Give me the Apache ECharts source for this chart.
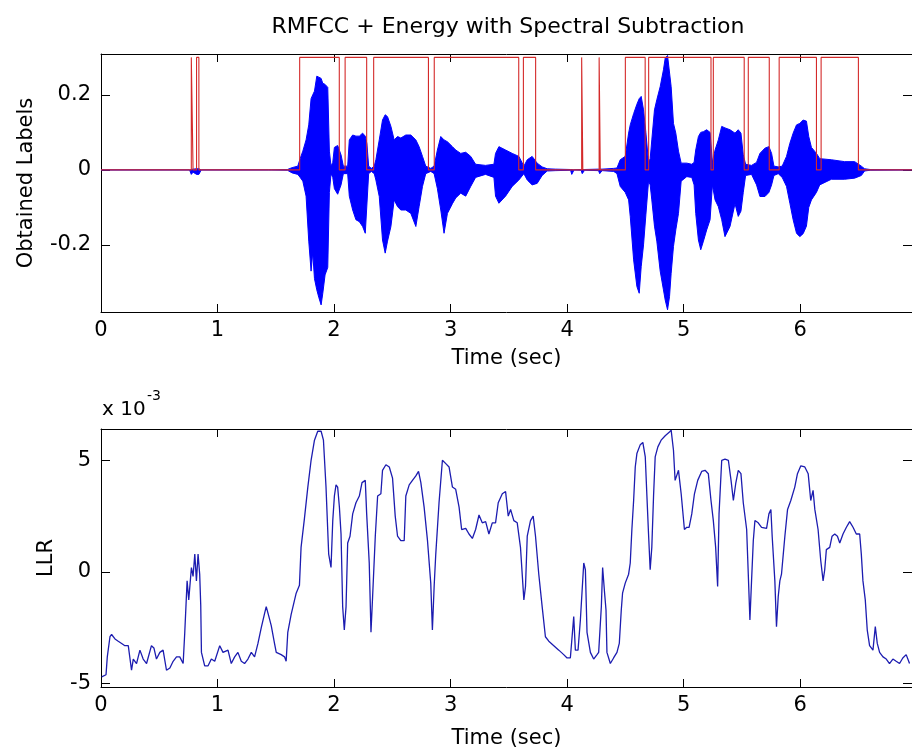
<!DOCTYPE html>
<html>
<head>
<meta charset="utf-8">
<style>
  html, body { margin: 0; padding: 0; background: #ffffff; }
  #chart { width: 912px; height: 755px; }
</style>
<script src="https://cdn.jsdelivr.net/npm/echarts@6/dist/echarts.min.js"></script>
</head>
<body>
<div id="chart"></div>
<script>
// ---- Axis ranges and tick values ----
const timeMax = 6.96;
const timeTicks = [0, 1, 2, 3, 4, 5, 6];
const labelAxisMin = -0.379;
const labelAxisMax = 0.309;
const labelTicks = [-0.2, 0, 0.2];
const llrAxisMin = -5.15;
const llrAxisMax = 6.4;
const llrTicks = [-5, 0, 5];

// ---- Speech waveform envelope (seconds, upper peak, lower peak) ----
const waveT = [
  0.00, 0.76, 0.775, 0.79, 0.82, 0.84, 0.86, 1.44, 1.45, 1.46, 1.60, 1.64,
  1.689, 1.709, 1.732, 1.760, 1.783, 1.803, 1.817, 1.832, 1.852, 1.869, 1.889, 1.903, 1.923, 1.946, 1.960, 1.974,
  1.989, 2.003, 2.031, 2.060, 2.080,
  2.117, 2.131, 2.160, 2.188, 2.217, 2.245, 2.268, 2.282, 2.297, 2.320,
  2.345, 2.359, 2.388, 2.416, 2.439, 2.459, 2.488, 2.516, 2.545, 2.573, 2.616, 2.659, 2.702, 2.730, 2.759, 2.787, 2.830,
  2.859, 2.887, 2.916, 2.944, 2.973, 3.016, 3.044, 3.087, 3.130, 3.173, 3.215, 3.300,
  3.372, 3.386, 3.415, 3.472, 3.529, 3.586, 3.629,
  3.658, 3.700, 3.743, 3.786, 3.829, 3.900, 4.030, 4.040, 4.060, 4.120, 4.130, 4.150, 4.270, 4.280, 4.300, 4.400,
  4.428, 4.456, 4.499, 4.528, 4.542, 4.571, 4.599, 4.619, 4.636, 4.656, 4.676, 4.699,
  4.713, 4.727, 4.750, 4.770, 4.799, 4.827, 4.842, 4.862, 4.879, 4.893, 4.913, 4.933, 4.956, 4.979,
  5.027, 5.070,
  5.090, 5.104, 5.127, 5.147, 5.170, 5.198, 5.227, 5.247,
  5.270, 5.298, 5.327, 5.355, 5.398, 5.441, 5.469, 5.492, 5.512, 5.532,
  5.583,
  5.626, 5.655, 5.698, 5.732, 5.755, 5.775,
  5.812,
  5.846, 5.883, 5.912, 5.940, 5.969, 5.997, 6.026, 6.054, 6.074, 6.097, 6.140, 6.168,
  6.268, 6.382, 6.468, 6.525, 6.553, 6.600, 6.960
];
const waveHi = [
  0, 0, 0.004, 0.002, 0.003, 0.003, 0, 0, 0.004, 0, 0.001, 0.006,
  0.010, 0.030, 0.050, 0.080, 0.120, 0.190, 0.200, 0.210, 0.250, 0.253, 0.244, 0.231, 0.228, 0.220, 0.050, 0.010,
  0.020, 0.060, 0.065, 0.040, 0.010,
  0.010, 0.080, 0.093, 0.090, 0.090, 0.098, 0.090, 0.070, 0.010, 0.004,
  0.010, 0.027, 0.080, 0.133, 0.147, 0.142, 0.116, 0.080, 0.089, 0.085, 0.093, 0.093, 0.080, 0.062, 0.036, 0.010, 0.004,
  0.010, 0.053, 0.089, 0.080, 0.075, 0.062, 0.053, 0.044, 0.047, 0.036, 0.015, 0.012,
  0.015, 0.044, 0.062, 0.053, 0.044, 0.036, 0.010,
  0.027, 0.036, 0.018, 0.008, 0.003, 0.002, 0.001, 0.003, 0.000, 0.001, 0.002, 0.001, 0.002, 0.004, 0.002, 0.004,
  0.005, 0.027, 0.036, 0.098, 0.120, 0.150, 0.175, 0.190, 0.196, 0.160, 0.100, 0.020,
  0.030, 0.080, 0.160, 0.187, 0.222, 0.267, 0.298, 0.305, 0.300, 0.222, 0.124, 0.098, 0.050, 0.018,
  0.018, 0.015,
  0.020, 0.053, 0.089, 0.100, 0.102, 0.107, 0.100, 0.020,
  0.053, 0.080, 0.116, 0.112, 0.107, 0.098, 0.107, 0.098, 0.040, 0.015,
  0.012,
  0.020, 0.044, 0.058, 0.062, 0.044, 0.010,
  0.008,
  0.010, 0.036, 0.071, 0.098, 0.120, 0.124, 0.133, 0.130, 0.089, 0.060, 0.044, 0.030,
  0.027, 0.022, 0.022, 0.010, 0.003, 0.001, 0
];
const waveLo = [
  0, 0, -0.012, -0.006, -0.012, -0.012, 0, 0, -0.002, 0, -0.001, -0.008,
  -0.012, -0.020, -0.030, -0.070, -0.190, -0.270, -0.220, -0.290, -0.320, -0.340, -0.360, -0.330, -0.280, -0.260, -0.060, -0.010,
  -0.020, -0.050, -0.065, -0.040, -0.010,
  -0.010, -0.070, -0.107, -0.133, -0.138, -0.151, -0.169, -0.165, -0.010, -0.004,
  -0.010, -0.027, -0.071, -0.187, -0.222, -0.190, -0.151, -0.080, -0.098, -0.107, -0.107, -0.116, -0.151, -0.098, -0.044, -0.010, -0.004,
  -0.010, -0.050, -0.107, -0.169, -0.116, -0.090, -0.075, -0.062, -0.070, -0.044, -0.020, -0.012,
  -0.020, -0.070, -0.089, -0.070, -0.044, -0.027, -0.010,
  -0.027, -0.040, -0.036, -0.015, -0.003, -0.002, -0.001, -0.012, 0.000, -0.001, -0.010, -0.001, -0.002, -0.010, -0.002, -0.004,
  -0.010, -0.044, -0.060, -0.080, -0.124, -0.240, -0.311, -0.329, -0.258, -0.200, -0.120, -0.030,
  -0.040, -0.080, -0.150, -0.190, -0.270, -0.320, -0.347, -0.373, -0.338, -0.276, -0.204, -0.160, -0.116, -0.030,
  -0.018, -0.020,
  -0.040, -0.116, -0.187, -0.213, -0.190, -0.160, -0.133, -0.040,
  -0.080, -0.098, -0.133, -0.178, -0.151, -0.090, -0.124, -0.110, -0.060, -0.015,
  -0.012,
  -0.040, -0.071, -0.071, -0.060, -0.040, -0.015,
  -0.010,
  -0.020, -0.044, -0.089, -0.133, -0.169, -0.178, -0.170, -0.150, -0.100, -0.080, -0.060, -0.040,
  -0.025, -0.025, -0.022, -0.015, -0.003, -0.001, 0
];

// ---- Obtained speech labels: segment start / end times (seconds) ----
const labelHigh = 0.3;
const labelOn  = [0.775, 0.820, 1.705, 2.095, 2.340, 2.860, 3.625, 4.125, 4.275, 4.500, 4.700, 5.255, 5.555, 5.820, 6.180];
const labelOff = [0.790, 0.840, 2.045, 2.280, 2.810, 3.585, 3.730, 4.135, 4.285, 4.670, 5.235, 5.520, 5.735, 6.140, 6.500];

// ---- Log-likelihood ratio (x 10^-3) ----
const llrT = [
  0.006, 0.043, 0.054, 0.077, 0.091, 0.120, 0.148, 0.177, 0.205, 0.234, 0.262, 0.277, 0.305, 0.334, 0.362, 0.391,
  0.433, 0.454, 0.476, 0.505, 0.533, 0.562, 0.591, 0.619, 0.648, 0.676, 0.705, 0.719, 0.739, 0.753, 0.776, 0.790,
  0.805, 0.819, 0.833, 0.847, 0.856, 0.862, 0.890, 0.919, 0.947, 0.976, 1.019, 1.047, 1.090, 1.118, 1.147, 1.175,
  1.204, 1.232, 1.261, 1.290, 1.318, 1.347, 1.375, 1.404, 1.418, 1.441, 1.461, 1.489, 1.504, 1.546, 1.575, 1.589,
  1.603, 1.632, 1.675, 1.703, 1.717, 1.746, 1.775, 1.803, 1.832, 1.860, 1.889, 1.909, 1.931, 1.954, 1.974, 1.989,
  2.003, 2.017, 2.031, 2.046, 2.060, 2.074, 2.088, 2.103, 2.117, 2.137, 2.160, 2.188, 2.217, 2.240, 2.268, 2.280,
  2.302, 2.317, 2.331, 2.354, 2.374, 2.402, 2.416, 2.445, 2.474, 2.502, 2.525, 2.545, 2.573, 2.602, 2.616, 2.645,
  2.673, 2.702, 2.725, 2.745, 2.773, 2.802, 2.830, 2.844, 2.859, 2.873, 2.901, 2.930, 2.959, 2.987, 3.016, 3.044,
  3.073, 3.095, 3.130, 3.158, 3.187, 3.215, 3.244, 3.272, 3.301, 3.329, 3.358, 3.386, 3.409, 3.444, 3.472, 3.495,
  3.515, 3.543, 3.572, 3.600, 3.629, 3.643, 3.658, 3.686, 3.709, 3.729, 3.757, 3.786, 3.814, 3.843, 3.886, 3.929,
  3.971, 4.000, 4.028, 4.057, 4.071, 4.094, 4.114, 4.143, 4.157, 4.171, 4.200, 4.228, 4.257, 4.271, 4.294, 4.305,
  4.322, 4.334, 4.342, 4.371, 4.399, 4.428, 4.448, 4.465, 4.476, 4.499, 4.528, 4.542, 4.556, 4.571, 4.585, 4.599,
  4.628, 4.650, 4.671, 4.685, 4.699, 4.713, 4.727, 4.742, 4.756, 4.779, 4.807, 4.842, 4.876, 4.893, 4.913, 4.927,
  4.956, 4.979, 5.007, 5.027, 5.047, 5.070, 5.093, 5.121, 5.155, 5.184, 5.212, 5.235, 5.255, 5.275, 5.292, 5.304,
  5.327, 5.355, 5.384, 5.407, 5.427, 5.447, 5.469, 5.492, 5.512, 5.541, 5.555, 5.569, 5.583, 5.598, 5.612, 5.640,
  5.669, 5.712, 5.732, 5.749, 5.760, 5.783, 5.797, 5.812, 5.826, 5.840, 5.869, 5.892, 5.920, 5.954, 5.977, 6.006,
  6.040, 6.069, 6.091, 6.111, 6.126, 6.154, 6.177, 6.197, 6.211, 6.225, 6.254, 6.274, 6.297, 6.320, 6.340, 6.368,
  6.397, 6.425, 6.454, 6.482, 6.511, 6.525, 6.539, 6.559, 6.576, 6.596, 6.625, 6.645, 6.662, 6.682, 6.711, 6.739,
  6.767, 6.796, 6.824, 6.853, 6.881, 6.910, 6.939
];
const llrV = [
  -4.7, -4.6, -3.8, -2.9, -2.8, -3.0, -3.1, -3.2, -3.3, -3.3, -4.4, -3.9, -4.1, -3.5, -3.9, -4.1,
  -3.3, -3.4, -3.9, -3.6, -3.5, -4.4, -4.3, -4.0, -3.8, -3.8, -4.1, -2.7, -0.4, -1.25, 0.2, -0.2,
  0.8, -0.4, 0.8, -0.1, -1.5, -3.6, -4.2, -4.2, -3.9, -4.0, -3.3, -3.6, -3.5, -4.1, -3.8, -3.6,
  -4.0, -4.1, -3.9, -3.6, -3.8, -3.2, -2.5, -1.85, -1.55, -2.0, -2.4, -3.2, -3.6, -3.7, -3.8, -4.0,
  -2.7, -1.9, -0.95, -0.6, 1.1, 2.4, 3.8, 5.0, 5.9, 6.3, 6.3, 5.9, 3.8, 0.8, 0.2, 2.3,
  3.4, 3.9, 3.8, 2.9, 1.7, -1.55, -2.6, -1.55, 1.3, 1.6, 2.6, 3.1, 3.4, 4.0, 4.1, 2.6,
  0.4, -2.7, -1.1, 1.6, 3.4, 3.5, 4.55, 4.8, 4.7, 4.2, 2.5, 1.6, 1.4, 1.4, 3.4, 3.9,
  4.1, 4.3, 4.5, 4.0, 2.9, 1.4, -0.5, -2.6, -0.65, 0.8, 3.1, 5.0, 4.85, 4.7, 3.8, 3.7,
  2.9, 1.9, 1.95, 1.7, 1.5, 1.9, 2.55, 2.2, 2.25, 1.7, 2.2, 2.2, 3.1, 3.5, 3.6, 2.5,
  2.8, 2.3, 2.2, 1.1, -1.25, -0.65, 1.6, 2.3, 2.5, 1.6, -0.1, -1.55, -2.9, -3.1, -3.3, -3.5,
  -3.7, -3.85, -3.85, -2.0, -3.5, -3.5, -2.15, 0.4, 0.1, -2.7, -3.6, -3.9, -3.7, -3.6, -1.55, 0.2,
  -0.95, -1.7, -3.6, -4.1, -3.85, -3.6, -3.2, -1.7, -0.95, -0.5, -0.1, 0.4, 1.9, 3.2, 4.7, 5.3,
  5.7, 5.8, 5.15, 3.4, 1.7, 0.1, 1.1, 3.4, 5.15, 5.6, 5.9, 6.1, 6.25, 6.35, 5.45, 4.1,
  4.55, 3.5, 1.9, 2.0, 2.0, 2.6, 3.5, 4.1, 4.5, 4.55, 4.4, 3.2, 2.3, 1.1, -0.65, 2.6,
  5.0, 5.05, 5.0, 4.1, 3.2, 3.95, 4.55, 4.4, 3.1, 1.9, -0.1, -2.15, -0.4, 1.4, 2.3, 2.2,
  2.0, 1.95, 2.6, 2.8, 1.6, -0.4, -2.45, -1.1, -0.4, -0.1, 1.6, 2.8, 3.2, 3.8, 4.4, 4.75,
  4.7, 4.4, 3.2, 3.65, 2.8, 1.9, 0.5, -0.4, 0.1, 1.0, 1.1, 1.6, 1.7, 1.6, 1.3, 1.7,
  2.0, 2.25, 2.0, 1.7, 1.7, 0.8, -0.4, -1.25, -2.6, -3.3, -3.5, -2.45, -3.2, -3.6, -3.8, -3.9,
  -4.1, -3.9, -4.0, -4.1, -3.85, -3.7, -4.1
];

// ---- Build series data from the arrays above ----
const zip = (xs, ys) => xs.map((x, i) => [x, ys[i]]);

const labelPath = [[0, 0]];
labelOn.forEach((on, i) => {
  labelPath.push([on, 0], [on, labelHigh], [labelOff[i], labelHigh], [labelOff[i], 0]);
});
labelPath.push([timeMax, 0]);

const FONT = 'DejaVu Sans';
const AXIS_COLOR = '#000000';

function timeAxis(gridIndex, position, withLabels, nameGap) {
  return {
    type: 'value', gridIndex, position,
    min: 0, max: timeMax,
    name: withLabels ? 'Time (sec)' : '',
    nameLocation: 'middle', nameGap: nameGap || 0,
    nameTextStyle: { fontFamily: FONT, fontSize: 21, color: '#000' },
    axisLine: { show: true, onZero: false, lineStyle: { color: AXIS_COLOR, width: 1 } },
    axisTick: { show: true, inside: true, length: 8, customValues: timeTicks, lineStyle: { color: AXIS_COLOR } },
    axisLabel: { show: withLabels, customValues: timeTicks, fontFamily: FONT, fontSize: 21, color: '#000', margin: 8 },
    splitLine: { show: false }
  };
}

function valueAxis(gridIndex, position, min, max, ticks, name, nameGap, withLabels) {
  return {
    type: 'value', gridIndex, position, min, max,
    name: withLabels ? name : '',
    nameLocation: 'middle', nameGap,
    nameTextStyle: { fontFamily: FONT, fontSize: 21, color: '#000' },
    axisLine: { show: true, onZero: false, lineStyle: { color: AXIS_COLOR, width: 1 } },
    axisTick: { show: true, inside: true, length: 9, customValues: ticks, lineStyle: { color: AXIS_COLOR } },
    axisLabel: { show: withLabels, customValues: ticks, fontFamily: FONT, fontSize: 21, color: '#000', margin: 10 },
    splitLine: { show: false }
  };
}

const chart = echarts.init(document.getElementById('chart'), null, { renderer: 'canvas' });

chart.setOption({
  animation: false,
  backgroundColor: '#ffffff',
  grid: [
    { left: 101, top: 54, width: 813, height: 258 },
    { left: 101, top: 429, width: 813, height: 258 }
  ],
  xAxis: [
    timeAxis(0, 'bottom', true, 36),
    timeAxis(0, 'top', false),
    timeAxis(1, 'bottom', true, 41),
    timeAxis(1, 'top', false)
  ],
  yAxis: [
    valueAxis(0, 'left', labelAxisMin, labelAxisMax, labelTicks, 'Obtained Labels', 64, true),
    valueAxis(0, 'right', labelAxisMin, labelAxisMax, labelTicks, '', 0, false),
    valueAxis(1, 'left', llrAxisMin, llrAxisMax, llrTicks, 'LLR', 44, true),
    valueAxis(1, 'right', llrAxisMin, llrAxisMax, llrTicks, '', 0, false)
  ],
  graphic: [
    {
      type: 'text', x: 508, y: 27,
      style: {
        text: 'RMFCC + Energy with Spectral Subtraction',
        fontFamily: FONT, fontSize: 22, fill: '#000',
        textAlign: 'center', textVerticalAlign: 'middle'
      }
    },
    {
      type: 'text', x: 102, y: 410,
      style: { text: 'x 10', fontFamily: FONT, fontSize: 20, fill: '#000', textAlign: 'left', textVerticalAlign: 'middle' }
    },
    {
      type: 'text', x: 147, y: 396,
      style: { text: '-3', fontFamily: FONT, fontSize: 14, fill: '#000', textAlign: 'left', textVerticalAlign: 'middle' }
    }
  ],
  series: [
    {
      name: 'waveform upper', type: 'line', xAxisIndex: 0, yAxisIndex: 0,
      data: zip(waveT, waveHi), showSymbol: false, silent: true,
      lineStyle: { color: '#0000ff', width: 1 },
      areaStyle: { color: '#0000ff', opacity: 1 },
      z: 2
    },
    {
      name: 'waveform lower', type: 'line', xAxisIndex: 0, yAxisIndex: 0,
      data: zip(waveT, waveLo), showSymbol: false, silent: true,
      lineStyle: { color: '#0000ff', width: 1 },
      areaStyle: { color: '#0000ff', opacity: 1 },
      z: 2
    },
    {
      name: 'labels', type: 'line', xAxisIndex: 0, yAxisIndex: 0,
      data: labelPath, showSymbol: false, silent: true,
      lineStyle: { color: '#d42a2a', width: 1.1 },
      z: 3
    },
    {
      name: 'LLR', type: 'line', xAxisIndex: 2, yAxisIndex: 2,
      data: zip(llrT, llrV), showSymbol: false, silent: true,
      lineStyle: { color: '#1c1cb0', width: 1.3 },
      z: 2
    }
  ]
});
</script>
</body>
</html>
